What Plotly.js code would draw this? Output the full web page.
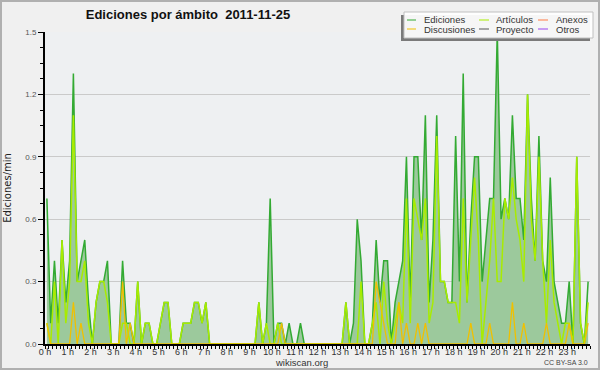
<!DOCTYPE html>
<html><head><meta charset="utf-8">
<script src="https://cdn.plot.ly/plotly-3.0.1.min.js"></script>
<style>html,body{margin:0;padding:0;background:#f0f0f0}#chart{width:600px;height:370px}</style>
</head><body><div id="chart"></div>
<script>
// Per 10-minute slot (144 slots in the day), edits per minute
const hourLabels = ["0 h","1 h","2 h","3 h","4 h","5 h","6 h","7 h","8 h","9 h","10 h","11 h","12 h","13 h","14 h","15 h","16 h","17 h","18 h","19 h","20 h","21 h","22 h","23 h"];
const ediciones = [
0.7,0.1,0.4,0.1,0.5,0.2,0.4,1.3,0.3,0.4,
0.5,0.2,0,0.2,0.3,0.3,0.4,0,0,0,
0.4,0.1,0.1,0,0.3,0,0.1,0.1,0,0,
0.1,0.2,0.2,0,0,0,0.1,0.1,0.1,0.2,
0.2,0.1,0.2,0,0,0,0,0,0,0,
0,0,0,0,0,0,0.2,0,0.1,0.7,
0,0.1,0.1,0,0.1,0,0,0.1,0,0,
0,0,0,0,0,0,0,0,0,0.2,
0,0.1,0.6,0.4,0,0,0.1,0.5,0.2,0.4,
0.4,0,0.2,0.3,0.4,0.9,0.2,0.9,0.9,0.5,
1.1,0.2,0.5,1.1,0.3,0.3,0.2,0.2,1.0,0.3,
1.3,0.2,0.6,0.9,0.9,0.3,0.5,0.7,0.7,1.5,
0.6,0.7,0.6,1.1,0.7,0.7,0.5,1.2,0.7,0.4,
1.0,0.4,0.3,0.8,0.3,0.2,0.1,0.1,0.3,0,
0.9,0.1,0,0.3];
const articulos = [
0.1,0,0.3,0,0.5,0.1,0.3,1.1,0.3,0.3,
0.4,0.1,0,0.2,0.3,0.3,0.2,0,0,0,
0.1,0.1,0,0,0.3,0,0.1,0.1,0,0,
0.1,0.2,0.2,0,0,0,0.1,0.1,0.1,0.2,
0.2,0.1,0.2,0,0,0,0,0,0,0,
0,0,0,0,0,0,0.2,0,0.1,0,
0,0.1,0,0,0,0,0,0,0,0,
0,0,0,0,0,0,0,0,0,0.2,
0,0,0,0.3,0,0,0.1,0.2,0,0.3,
0.1,0,0.1,0.2,0.1,0.7,0.1,0.7,0.6,0.5,
0.7,0.1,0.2,1.0,0.3,0.3,0.2,0.2,0.2,0.1,
0.7,0.2,0.5,0.8,0.5,0,0.2,0.4,0.7,0.3,
0.3,0.7,0.6,0.8,0.6,0.5,0.3,1.2,0.6,0.4,
0.9,0.4,0.1,0.5,0.2,0.1,0,0.1,0.1,0,
0.9,0.1,0,0.2];
const discusiones = [
0.1,0,0,0,0,0,0,0.2,0,0.1,
0,0,0,0,0,0,0,0,0,0,
0.3,0,0.1,0,0,0,0,0,0,0,
0,0,0,0,0,0,0,0,0,0,
0,0,0,0,0,0,0,0,0,0,
0,0,0,0,0,0,0,0,0,0,
0,0,0.1,0,0,0,0,0,0,0,
0,0,0,0,0,0,0,0,0,0,
0,0,0,0,0,0,0,0.3,0.2,0.1,
0,0,0,0.2,0,0.1,0,0,0.1,0,
0.1,0,0,0,0,0,0,0,0,0,
0,0,0.1,0,0,0,0,0.1,0,0,
0,0,0,0.2,0,0,0.1,0,0,0,
0,0,0.1,0,0,0,0,0,0.1,0,
0,0,0,0.1];
const legendNames = ["Ediciones","Artículos","Anexos","Discusiones","Proyecto","Otros"];
const legendColors = ["#33aa33","#a8ec00","#ff7a45","#f0c000","#555555","#9944ee"];

const slotX = ediciones.map((_, i) => i * 10 + 5); // slot centres, minutes
const hourTicks = hourLabels.map((_, h) => h * 60);

// pixel -> paper helpers for decorations
const L = 45, R = 590, T = 32, B = 344;
const px = x => (x - L) / (R - L);
const py = y => (B - y) / (B - T);

const traces = [
  {x: slotX, y: ediciones, type: 'scatter', mode: 'lines', name: legendNames[0],
   line: {color: legendColors[0], width: 1.5}, fill: 'tozeroy', fillcolor: '#9cc99c', hoverinfo: 'skip'},
  {x: slotX, y: articulos, type: 'scatter', mode: 'lines', name: legendNames[1],
   line: {color: legendColors[1], width: 1.5}, hoverinfo: 'skip'},
  {x: slotX, y: discusiones, type: 'scatter', mode: 'lines', name: legendNames[3],
   line: {color: legendColors[3], width: 1.3}, hoverinfo: 'skip'}
];

const shapes = [
  {type: 'rect', xref: 'paper', yref: 'paper', x0: px(1), x1: px(599), y0: py(369), y1: py(1),
   line: {color: '#b0b0b0', width: 2}, fillcolor: 'rgba(0,0,0,0)', layer: 'below'},
  {type: 'rect', xref: 'paper', yref: 'paper', x0: px(401), x1: px(590), y0: py(41), y1: py(15),
   line: {width: 0}, fillcolor: '#7a7a7a'},
  {type: 'rect', xref: 'paper', yref: 'paper', x0: px(404), x1: px(593), y0: py(38), y1: py(12),
   line: {color: '#c0c0c0', width: 1}, fillcolor: 'rgba(255,255,255,0.93)'}
];
const annotations = [];
const colX = [[407, 416, 422], [479, 489, 494], [538, 548, 554]];
const rowY = [20, 29];
legendNames.forEach((n, k) => {
  const c = colX[k % 3], y = rowY[Math.floor(k / 3)];
  shapes.push({type: 'line', xref: 'paper', yref: 'paper', x0: px(c[0]), x1: px(c[1]), y0: py(y), y1: py(y),
    line: {color: legendColors[k], width: 1}});
  annotations.push({xref: 'paper', yref: 'paper', x: px(c[2]), y: py(y), text: n, showarrow: false,
    xanchor: 'left', yanchor: 'middle', font: {family: 'Liberation Sans, Arial', size: 9.5, color: '#333'}});
});
annotations.push({xref: 'paper', yref: 'paper', x: px(301), y: py(362), text: 'wikiscan.org', showarrow: false,
  xanchor: 'center', yanchor: 'middle', font: {family: 'Liberation Sans, Arial', size: 9.5, color: '#333'}});
annotations.push({xref: 'paper', yref: 'paper', x: px(590), y: py(362), text: 'CC BY-SA 3.0', showarrow: false,
  xanchor: 'right', yanchor: 'middle', font: {family: 'Liberation Sans, Arial', size: 7, color: '#444'}});

const layout = {
  width: 600, height: 370,
  margin: {l: L, r: 600 - R, t: T, b: 370 - B, pad: 0},
  paper_bgcolor: '#f0f0f0', plot_bgcolor: '#eef0f2',
  showlegend: false,
  title: {text: 'Ediciones por ámbito  2011-11-25', x: 188 / 600, xanchor: 'center', xref: 'container',
    y: 1 - 14 / 370, yanchor: 'middle', yref: 'container',
    font: {family: 'Liberation Sans, Arial', size: 13, color: '#111', weight: 'bold'}},
  xaxis: {range: [0, 1440], tickvals: hourTicks, ticktext: hourLabels, ticks: 'outside', ticklen: 3,
    tickcolor: '#000', tickwidth: 1, showgrid: false, zeroline: false, showline: true, linecolor: '#000', linewidth: 2,
    ticklabelstandoff: -5,
    tickfont: {family: 'Liberation Sans, Arial', size: 9, color: '#333'},
    minor: {dtick: 10, tick0: 0, ticks: 'outside', ticklen: 3, tickcolor: '#000', showgrid: false},
    fixedrange: true},
  yaxis: {range: [0, 1.5], tickvals: [0, 0.3, 0.6, 0.9, 1.2, 1.5], ticktext: ['0.0','0.3','0.6','0.9','1.2','1.5'],
    ticks: 'outside', ticklen: 5, tickcolor: '#000', showgrid: true, gridcolor: '#cacaca', gridwidth: 1,
    zeroline: false, showline: true, linecolor: '#000', linewidth: 2,
    tickfont: {family: 'Liberation Sans, Arial', size: 8, color: '#555'},
    minor: {dtick: 0.075, tick0: 0, ticks: 'outside', ticklen: 3, tickcolor: '#000', showgrid: false},
    title: {text: 'Ediciones/min', standoff: 12, font: {family: 'DejaVu Sans', size: 10, color: '#222'}},
    fixedrange: true},
  shapes: shapes, annotations: annotations
};
Plotly.newPlot('chart', traces, layout, {staticPlot: true, displayModeBar: false});
</script></body></html>
